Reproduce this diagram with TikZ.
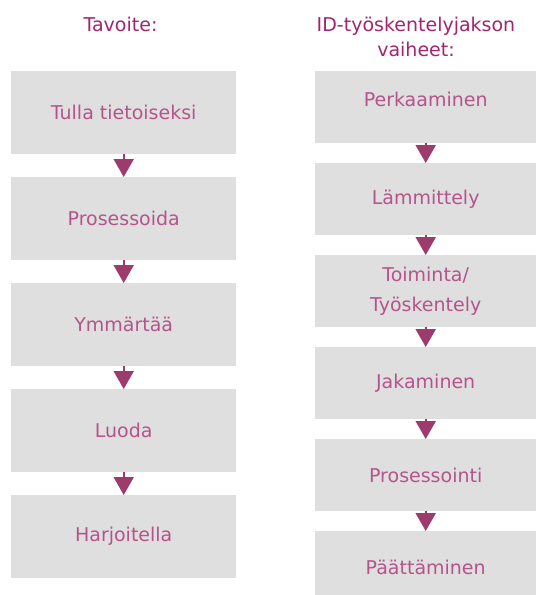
\documentclass[tikz,border=0pt]{standalone}
\usepackage{fontspec}
\setmainfont{DejaVu Sans}
\usetikzlibrary{arrows.meta}
\definecolor{boxfill}{HTML}{DFDFDF}
\definecolor{headcol}{HTML}{A3256F}
\definecolor{textcol}{HTML}{B5548B}
\definecolor{arrcol}{HTML}{9C3B6C}
\tikzset{
  lbox/.style={rectangle, fill=boxfill, anchor=north west, inner sep=0pt,
    minimum width=225pt, minimum height=83pt, text=textcol,
    font=\fontsize{19}{30}\selectfont, align=center},
  rbox/.style={lbox, minimum width=221pt, minimum height=72pt},
  head/.style={text=headcol, font=\fontsize{19}{25}\selectfont, align=center, inner sep=0pt, anchor=base},
  flow/.style={arrcol, line width=2pt, -{Triangle[width=20pt,length=18pt]}, shorten <=-0.5pt}
}
\begin{document}
\begin{tikzpicture}[x=1pt,y=-1pt]
\useasboundingbox[fill=white] (0,0) rectangle (536,595);
\node[head] (h1) at (120.5,31) {Tavoite:};
\node[head] (h2) at (416,56.5) {ID-työskentelyjakson\\vaiheet:};
\node[lbox] (l1) at (11,71) {Tulla tietoiseksi};
\node[lbox] (l2) at (11,177) {Prosessoida};
\node[lbox] (l3) at (11,283) {Ymmärtää};
\node[lbox] (l4) at (11,389) {Luoda};
\node[lbox] (l5) at (11,495) {Harjoitella};
\node[rbox] (r1) at (315,71) {\raisebox{8pt}[\height][\depth]{Perkaaminen}};
\node[rbox] (r2) at (315,163) {Lämmittely};
\node[rbox] (r3) at (315,255) {Toiminta/\\Työskentely};
\node[rbox] (r4) at (315,347) {Jakaminen};
\node[rbox] (r5) at (315,439) {Prosessointi};
\node[rbox] (r6) at (315,531) {Päättäminen};
\foreach \a/\b in {l1/l2,l2/l3,l3/l4,l4/l5,r1/r2,r2/r3,r3/r4,r4/r5,r5/r6}
  \draw[flow] (\a.south) -- (\b.north);
\end{tikzpicture}
\end{document}
